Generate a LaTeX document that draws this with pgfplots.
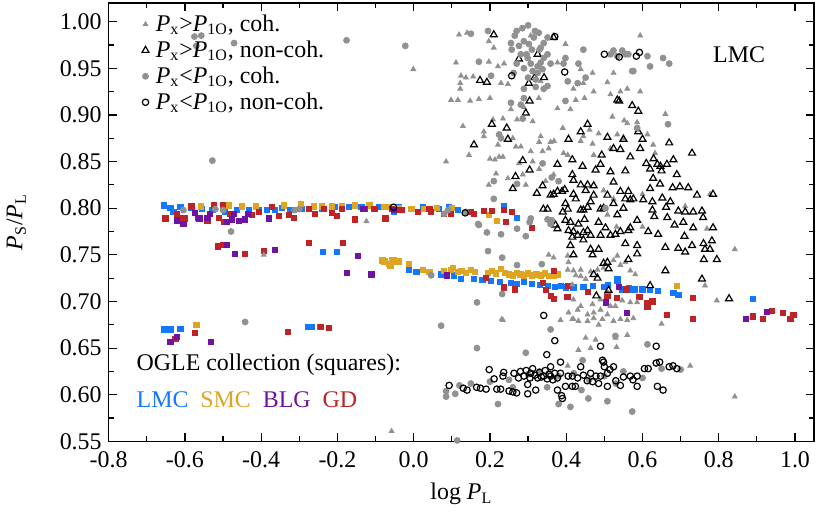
\documentclass[border=0pt]{standalone}
\usepackage{fontspec}
\setmainfont{Liberation Serif}
\usepackage{pgfplots}
\pgfplotsset{compat=1.18}

\definecolor{cohgray}{RGB}{145,145,145}
\definecolor{lmcblue}{RGB}{20,120,255}
\definecolor{smcyellow}{RGB}{222,165,35}
\definecolor{blgpurple}{RGB}{110,20,160}
\definecolor{gdred}{RGB}{190,35,40}

\begin{document}
\begin{tikzpicture}[font=\fontsize{12}{14}\selectfont]
\begin{axis}[
    width=354pt, height=220pt, scale only axis,
    xmin=-0.8, xmax=1.05,
    ymin=0.55, ymax=1.02,
    xtick={-0.8,-0.6,-0.4,-0.2,0,0.2,0.4,0.6,0.8,1.0},
    xticklabels={-0.8,-0.6,-0.4,-0.2,0.0,0.2,0.4,0.6,0.8,1.0},
    ytick={0.55,0.60,0.65,0.70,0.75,0.80,0.85,0.90,0.95,1.00},
    yticklabels={0.55,0.60,0.65,0.70,0.75,0.80,0.85,0.90,0.95,1.00},
    xticklabel style={yshift=-1.5pt},
    minor tick num=1,
    tick align=inside,
    major tick length=4pt, minor tick length=2.5pt,
    axis line style={line width=0.8pt},
    every tick/.style={black, line width=0.6pt},
    xlabel={log \textit{P}\textsubscript{L}},
    xlabel shift=1pt,
    ylabel={\textit{P}\textsubscript{S}/\textit{P}\textsubscript{L}},
    ylabel shift=10pt,
    legend image code/.code={\path (-0.1cm,0cm) (0.1cm,0cm);
        \draw[#1] plot coordinates {(0cm,0cm)};},
    legend style={at={(0.04,0.988)}, anchor=north west, draw=none, fill=none,
        row sep=-0.8pt, inner sep=1pt, font=\fontsize{12}{13}\selectfont},
    legend cell align=left,
]

% OGLE collection, drawn first
\addplot[only marks, mark=square*, mark size=1.3pt, color=lmcblue, forget plot] table {
x y
-0.656 0.803
-0.638 0.800
-0.630 0.796
-0.612 0.801
-0.585 0.800
-0.555 0.799
-0.528 0.798
-0.495 0.796
-0.463 0.798
-0.432 0.798
-0.406 0.798
-0.385 0.798
-0.364 0.798
-0.345 0.800
-0.325 0.798
-0.293 0.799
-0.241 0.799
-0.207 0.801
-0.171 0.801
-0.137 0.801
-0.092 0.801
-0.051 0.796
-0.040 0.801
0.025 0.801
0.067 0.799
0.093 0.801
0.116 0.798
0.237 0.802
0.271 0.790
-0.654 0.670
-0.636 0.670
-0.612 0.671
-0.278 0.673
-0.268 0.673
-0.246 0.673
-0.239 0.753
-0.202 0.753
-0.012 0.734
0.007 0.732
0.072 0.729
0.106 0.728
0.124 0.724
0.158 0.724
0.180 0.723
0.203 0.722
0.225 0.721
0.255 0.720
0.270 0.719
0.289 0.721
0.310 0.719
0.330 0.718
0.351 0.717
0.370 0.716
0.385 0.717
0.400 0.715
0.419 0.715
0.445 0.716
0.470 0.717
0.498 0.716
0.510 0.718
0.534 0.724
0.534 0.722
0.547 0.713
0.565 0.714
0.576 0.712
0.581 0.713
0.600 0.713
0.620 0.712
0.641 0.711
0.681 0.709
0.694 0.707
0.889 0.703
};
\addplot[only marks, mark=square*, mark size=1.3pt, color=smcyellow, forget plot] table {
x y
-0.557 0.802
-0.484 0.803
-0.450 0.802
-0.414 0.802
-0.340 0.803
-0.296 0.805
-0.262 0.802
-0.241 0.802
-0.215 0.802
-0.189 0.802
-0.155 0.803
-0.116 0.803
-0.077 0.801
-0.066 0.801
-0.040 0.800
-0.006 0.799
0.028 0.799
0.060 0.800
0.100 0.800
0.197 0.793
0.218 0.786
-0.570 0.675
-0.082 0.744
-0.077 0.743
-0.066 0.740
-0.061 0.738
-0.058 0.744
-0.053 0.745
-0.046 0.742
-0.040 0.743
-0.012 0.740
0.025 0.734
0.041 0.732
0.080 0.733
0.098 0.734
0.103 0.736
0.116 0.732
0.125 0.733
0.137 0.731
0.150 0.734
0.160 0.732
0.195 0.731
0.205 0.733
0.215 0.730
0.229 0.735
0.240 0.731
0.250 0.729
0.260 0.728
0.270 0.731
0.280 0.729
0.289 0.728
0.300 0.730
0.310 0.728
0.322 0.729
0.333 0.728
0.345 0.730
0.355 0.727
0.367 0.728
0.378 0.729
0.691 0.717
};
\addplot[only marks, mark=square*, mark size=1.3pt, color=gdred, forget plot] table {
x y
-0.651 0.789
-0.620 0.794
-0.609 0.789
-0.599 0.789
-0.583 0.802
-0.565 0.790
-0.541 0.787
-0.523 0.803
-0.510 0.790
-0.500 0.803
-0.497 0.785
-0.481 0.794
-0.424 0.793
-0.406 0.796
-0.372 0.801
-0.354 0.792
-0.327 0.793
-0.314 0.790
-0.275 0.799
-0.260 0.794
-0.236 0.799
-0.215 0.795
-0.202 0.792
-0.189 0.799
-0.155 0.788
-0.129 0.799
-0.103 0.799
-0.074 0.789
-0.058 0.799
-0.038 0.798
-0.032 0.798
0.012 0.796
0.041 0.799
0.046 0.796
0.080 0.794
0.098 0.794
0.150 0.796
0.158 0.794
0.184 0.797
0.205 0.797
0.237 0.798
0.257 0.796
0.242 0.785
0.310 0.779
-0.513 0.759
-0.500 0.761
-0.442 0.751
-0.393 0.754
-0.275 0.763
-0.186 0.763
-0.573 0.666
-0.625 0.660
-0.330 0.667
-0.244 0.673
-0.223 0.672
0.190 0.725
0.237 0.715
0.266 0.713
0.338 0.720
0.346 0.712
0.359 0.706
0.367 0.703
0.367 0.733
0.403 0.705
0.404 0.717
0.456 0.710
0.508 0.706
0.532 0.704
0.558 0.713
0.592 0.705
0.613 0.698
0.613 0.694
0.626 0.700
0.665 0.686
0.733 0.704
0.733 0.681
0.889 0.684
0.915 0.681
0.939 0.690
0.968 0.688
0.988 0.681
0.996 0.686
};
\addplot[only marks, mark=square*, mark size=1.3pt, color=blgpurple, forget plot] table {
x y
-0.620 0.787
-0.604 0.783
-0.573 0.795
-0.562 0.789
-0.541 0.790
-0.534 0.794
-0.489 0.785
-0.476 0.788
-0.471 0.794
-0.458 0.786
-0.442 0.788
-0.434 0.794
-0.380 0.789
-0.132 0.799
-0.051 0.798
-0.489 0.761
-0.468 0.751
-0.364 0.755
-0.147 0.749
-0.176 0.731
-0.111 0.729
-0.638 0.657
-0.620 0.662
-0.531 0.657
0.088 0.728
0.503 0.699
0.539 0.716
0.560 0.688
0.871 0.681
0.926 0.689
};

% Px > P1O, coherent
\addplot[only marks, mark=triangle*, mark size=1.4pt, color=cohgray] table {
x y
-0.393 0.750
-0.124 0.786
-0.058 0.561
-0.001 0.949
0.085 0.850
0.098 0.916
0.111 0.956
0.116 0.916
0.119 0.986
0.122 0.934
0.122 0.928
0.124 0.942
0.129 0.888
0.137 0.940
0.140 0.988
0.145 0.857
0.148 0.915
0.156 0.941
0.171 0.917
0.184 0.882
0.184 0.877
0.197 0.979
0.197 0.957
0.197 0.825
0.200 0.918
0.200 0.853
0.208 0.895
0.210 0.972
0.213 0.852
0.216 0.837
0.221 0.952
0.221 0.868
0.224 0.855
0.229 0.934
0.231 0.681
0.234 0.855
0.234 0.896
0.234 0.680
0.237 0.955
0.247 0.933
0.247 0.832
0.255 0.906
0.260 0.875
0.268 0.866
0.271 0.895
0.276 0.848
0.281 0.866
0.286 0.836
0.289 0.908
0.294 0.825
0.307 0.985
0.307 0.861
0.312 0.893
0.312 0.850
0.325 0.988
0.328 0.918
0.329 0.871
0.329 0.842
0.333 0.936
0.333 0.877
0.338 0.861
0.346 0.829
0.354 0.864
0.354 0.750
0.359 0.871
0.367 0.836
0.367 0.747
0.368 0.872
0.377 0.956
0.377 0.907
0.385 0.680
0.391 0.886
0.393 0.859
0.398 0.976
0.404 0.857
0.404 0.749
0.404 0.734
0.404 0.631
0.406 0.742
0.406 0.688
0.411 0.906
0.416 0.718
0.416 0.681
0.419 0.928
0.419 0.733
0.419 0.702
0.419 0.681
0.425 0.916
0.425 0.728
0.430 0.691
0.432 0.679
0.432 0.648
0.438 0.949
0.438 0.872
0.438 0.734
0.438 0.727
0.438 0.695
0.445 0.934
0.445 0.877
0.448 0.918
0.451 0.724
0.451 0.661
0.456 0.686
0.456 0.679
0.461 0.884
0.464 0.732
0.464 0.650
0.469 0.945
0.469 0.869
0.469 0.697
0.472 0.925
0.472 0.857
0.472 0.688
0.472 0.682
0.477 0.659
0.482 0.734
0.485 0.880
0.485 0.675
0.490 0.702
0.490 0.691
0.495 0.681
0.498 0.819
0.498 0.736
0.508 0.935
0.508 0.793
0.508 0.710
0.508 0.686
0.516 0.922
0.516 0.864
0.516 0.695
0.521 0.898
0.524 0.945
0.524 0.810
0.524 0.744
0.524 0.679
0.529 0.695
0.529 0.661
0.532 0.780
0.532 0.651
0.534 0.879
0.534 0.749
0.542 0.925
0.542 0.739
0.542 0.681
0.547 0.701
0.550 0.875
0.552 0.894
0.555 0.742
0.560 0.928
0.560 0.891
0.560 0.680
0.560 0.664
0.568 0.733
0.568 0.699
0.576 0.682
0.581 0.729
0.586 0.892
0.586 0.699
0.587 0.884
0.594 0.985
0.594 0.925
0.600 0.815
0.600 0.780
0.613 0.879
0.628 0.868
0.633 0.859
0.650 0.676
0.660 0.901
0.712 0.802
0.725 0.631
0.764 0.717
0.769 0.778
0.777 0.815
0.795 0.701
0.842 0.756
0.842 0.598
};
\addlegendentry{\textit{P}\textsubscript{x}>\textit{P}\textsubscript{1O}, coh.}

% Px > P1O, non-coherent
\addplot[only marks, mark=triangle, mark size=2pt, color=black, line width=0.6pt] table {
x y
0.158 0.868
0.174 0.937
0.192 0.935
0.205 0.890
0.210 0.986
0.244 0.886
0.247 0.874
0.260 0.821
0.267 0.834
0.276 0.960
0.286 0.851
0.294 0.902
0.302 0.934
0.304 0.915
0.304 0.841
0.317 0.940
0.323 0.816
0.325 0.965
0.338 0.824
0.340 0.799
0.342 0.940
0.351 0.799
0.359 0.814
0.367 0.983
0.367 0.815
0.372 0.782
0.377 0.847
0.377 0.818
0.377 0.778
0.389 0.818
0.391 0.796
0.396 0.820
0.398 0.805
0.398 0.787
0.404 0.799
0.406 0.874
0.406 0.776
0.411 0.785
0.411 0.760
0.416 0.852
0.416 0.836
0.416 0.769
0.419 0.830
0.419 0.815
0.419 0.775
0.419 0.750
0.425 0.810
0.430 0.771
0.432 0.783
0.438 0.882
0.438 0.825
0.438 0.798
0.443 0.845
0.445 0.798
0.445 0.774
0.445 0.766
0.448 0.788
0.451 0.819
0.456 0.890
0.456 0.825
0.456 0.801
0.456 0.776
0.464 0.807
0.464 0.771
0.464 0.756
0.469 0.750
0.472 0.824
0.472 0.814
0.472 0.729
0.477 0.841
0.479 0.706
0.482 0.725
0.485 0.785
0.485 0.756
0.490 0.847
0.490 0.799
0.490 0.771
0.493 0.857
0.498 0.800
0.498 0.741
0.503 0.779
0.508 0.876
0.508 0.814
0.508 0.742
0.511 0.735
0.511 0.712
0.516 0.839
0.516 0.771
0.524 0.864
0.524 0.828
0.524 0.805
0.529 0.772
0.534 0.916
0.534 0.793
0.539 0.915
0.542 0.863
0.542 0.818
0.542 0.775
0.550 0.874
0.550 0.800
0.555 0.840
0.555 0.810
0.555 0.762
0.563 0.818
0.563 0.776
0.563 0.745
0.568 0.855
0.568 0.809
0.568 0.779
0.573 0.910
0.576 0.810
0.586 0.787
0.586 0.760
0.586 0.751
0.589 0.904
0.589 0.882
0.594 0.864
0.600 0.874
0.602 0.809
0.610 0.848
0.615 0.775
0.620 0.842
0.620 0.821
0.620 0.717
0.626 0.807
0.626 0.798
0.628 0.832
0.629 0.853
0.631 0.791
0.639 0.847
0.641 0.772
0.646 0.826
0.647 0.845
0.650 0.840
0.652 0.811
0.660 0.758
0.660 0.733
0.662 0.801
0.664 0.847
0.665 0.790
0.670 0.870
0.673 0.807
0.679 0.822
0.681 0.852
0.684 0.782
0.690 0.836
0.694 0.797
0.694 0.757
0.698 0.823
0.707 0.785
0.710 0.770
0.712 0.796
0.712 0.753
0.720 0.822
0.730 0.859
0.730 0.760
0.733 0.796
0.733 0.779
0.743 0.814
0.756 0.797
0.756 0.724
0.759 0.790
0.760 0.762
0.761 0.745
0.764 0.756
0.777 0.756
0.782 0.765
0.785 0.815
0.785 0.779
0.795 0.745
0.827 0.703
};
\addlegendentry{\textit{P}\textsubscript{x}>\textit{P}\textsubscript{1O}, non-coh.}

% Px < P1O, coherent
\addplot[only marks, mark=*, mark size=1.5pt, color=cohgray] table {
x y
-0.575 0.984
-0.557 0.985
-0.570 0.974
-0.471 0.977
-0.176 0.980
-0.022 0.974
-0.528 0.851
-0.479 0.775
-0.604 0.798
-0.520 0.799
-0.500 0.798
-0.312 0.798
-0.300 0.799
-0.442 0.678
0.046 0.728
0.072 0.674
0.080 0.794
0.085 0.598
0.085 0.604
0.090 0.798
0.109 0.601
0.114 0.551
0.120 0.610
0.137 0.796
0.150 0.987
0.150 0.612
0.166 0.699
0.166 0.650
0.169 0.783
0.171 0.957
0.171 0.782
0.192 0.774
0.195 0.990
0.195 0.754
0.200 0.614
0.203 0.942
0.210 0.829
0.210 0.810
0.221 0.590
0.224 0.879
0.229 0.875
0.229 0.772
0.232 0.747
0.232 0.708
0.250 0.616
0.255 0.977
0.255 0.913
0.257 0.970
0.260 0.608
0.262 0.945
0.265 0.985
0.270 0.990
0.270 0.955
0.271 0.826
0.271 0.778
0.271 0.739
0.276 0.974
0.281 0.965
0.281 0.911
0.285 0.993
0.286 0.896
0.289 0.979
0.289 0.950
0.289 0.928
0.289 0.918
0.294 0.770
0.294 0.645
0.296 0.965
0.299 0.961
0.300 0.996
0.300 0.940
0.300 0.622
0.302 0.976
0.304 0.785
0.307 0.955
0.307 0.789
0.310 0.970
0.312 0.947
0.315 0.983
0.318 0.990
0.320 0.938
0.320 0.930
0.325 0.952
0.325 0.945
0.328 0.988
0.330 0.970
0.330 0.625
0.333 0.972
0.333 0.956
0.336 0.740
0.338 0.949
0.338 0.848
0.341 0.977
0.341 0.961
0.341 0.928
0.350 0.608
0.351 0.983
0.351 0.965
0.351 0.931
0.351 0.788
0.359 0.955
0.359 0.783
0.359 0.670
0.362 0.833
0.362 0.787
0.380 0.829
0.380 0.620
0.380 0.590
0.393 0.955
0.398 0.961
0.398 0.915
0.404 0.936
0.411 0.587
0.420 0.623
0.430 0.934
0.432 0.955
0.440 0.605
0.443 0.637
0.445 0.970
0.451 0.940
0.458 0.596
0.460 0.616
0.500 0.620
0.503 0.800
0.508 0.593
0.516 0.965
0.524 0.969
0.529 0.663
0.530 0.612
0.534 0.963
0.547 0.969
0.550 0.625
0.555 0.965
0.563 0.965
0.573 0.947
0.573 0.582
0.576 0.947
0.586 0.886
0.600 0.618
0.613 0.963
0.613 0.654
0.620 0.952
0.650 0.628
0.654 0.961
0.667 0.890
0.670 0.955
0.700 0.627
};
\addlegendentry{\textit{P}\textsubscript{x}<\textit{P}\textsubscript{1O}, coh.}

% Px < P1O, non-coherent
\addplot[only marks, mark=o, mark size=1.6pt, color=black, line width=0.6pt] table {
x y
-0.053 0.801
0.135 0.795
0.257 0.942
0.370 0.984
0.396 0.946
0.500 0.965
0.539 0.962
0.584 0.963
0.592 0.967
0.341 0.685
0.370 0.658
0.490 0.652
0.636 0.652
0.349 0.643
0.385 0.635
0.093 0.610
0.130 0.607
0.140 0.605
0.165 0.608
0.175 0.607
0.190 0.606
0.198 0.627
0.211 0.617
0.218 0.606
0.228 0.606
0.234 0.620
0.236 0.624
0.250 0.604
0.260 0.603
0.263 0.623
0.270 0.602
0.275 0.618
0.280 0.625
0.289 0.620
0.295 0.626
0.299 0.611
0.299 0.601
0.305 0.618
0.307 0.623
0.312 0.628
0.318 0.621
0.320 0.605
0.325 0.618
0.330 0.624
0.335 0.619
0.341 0.620
0.345 0.626
0.350 0.617
0.355 0.622
0.359 0.620
0.359 0.630
0.365 0.616
0.370 0.623
0.377 0.618
0.377 0.605
0.385 0.623
0.388 0.599
0.390 0.596
0.398 0.609
0.405 0.620
0.416 0.620
0.416 0.609
0.424 0.609
0.430 0.618
0.438 0.630
0.445 0.621
0.455 0.615
0.464 0.623
0.469 0.614
0.478 0.620
0.485 0.612
0.490 0.620
0.495 0.637
0.498 0.635
0.500 0.630
0.508 0.609
0.508 0.623
0.515 0.627
0.524 0.630
0.530 0.615
0.542 0.610
0.550 0.619
0.568 0.620
0.575 0.616
0.586 0.620
0.586 0.609
0.605 0.628
0.615 0.628
0.636 0.634
0.645 0.635
0.639 0.609
0.654 0.605
0.670 0.630
0.680 0.631
0.690 0.628
};
\addlegendentry{\textit{P}\textsubscript{x}<\textit{P}\textsubscript{1O}, non-coh.}

\node[anchor=base west] at (axis cs:0.767,0.956) {LMC};
\node[anchor=base west] at (axis cs:-0.745,0.626) {OGLE collection (squares):};
\node[anchor=base west] at (axis cs:-0.745,0.586) {\textcolor{lmcblue}{LMC}\hspace{6pt}\textcolor{smcyellow}{SMC}\hspace{6pt}\textcolor{blgpurple}{BLG}\hspace{6pt}\textcolor{gdred}{GD}};
\end{axis}
\path (current axis.east) ++(8pt,0pt);
\path (current axis.north) ++(0pt,1.5pt);
\path (current axis.outer south) ++(0pt,-1.5pt);
\end{tikzpicture}
\end{document}
